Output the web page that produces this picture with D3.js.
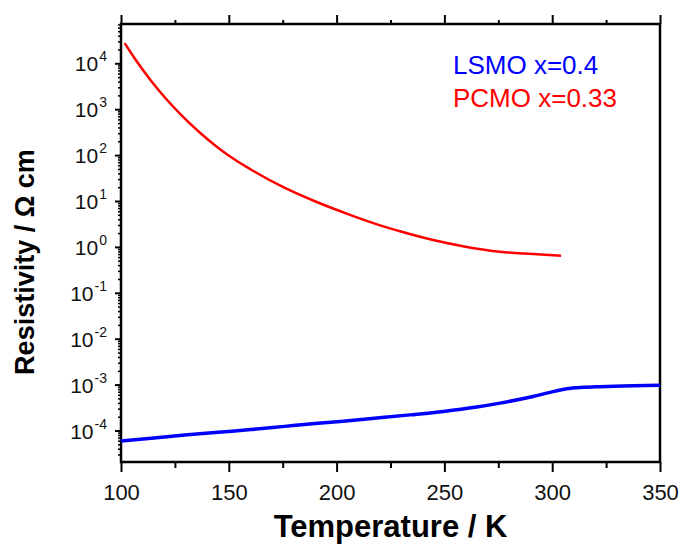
<!DOCTYPE html>
<html>
<head>
<meta charset="utf-8">
<script src="https://cdn.jsdelivr.net/npm/d3@7"></script>
<style>
  body { margin: 0; background: #fff; }
  text { font-family: "Liberation Sans", Arial, sans-serif; }
</style>
</head>
<body>
<script>
// values
var pcmoT   = [101.7, 106.3, 114.1, 121.8, 129.5, 137.3, 145, 152.7, 160.4, 175.3, 190.8, 206.2, 221.7, 229.4, 244.8, 260.3, 275.8, 291.1, 304.1];
var pcmoRho = [2.75e4, 1.29e4, 4.07e3, 1.51e3, 631, 288, 145, 80, 48, 20, 9.5, 5.0, 2.8, 2.19, 1.41, 1.0, 0.785, 0.70, 0.64];

var lsmoT   = [100, 114.1, 129.5, 145, 160.3, 175.9, 191.4, 203.1, 218.6, 234, 249.5, 265, 275.8, 291.1, 299, 306.7, 314.5, 322.2, 337.5, 350];
var lsmoRho = [5.9e-5, 6.76e-5, 7.94e-5, 9.16e-5, 1.047e-4, 1.23e-4, 1.44e-4, 1.6e-4, 1.87e-4, 2.19e-4, 2.6e-4, 3.25e-4, 3.95e-4, 5.5e-4, 6.76e-4, 8.1e-4, 8.71e-4, 9.02e-4, 9.44e-4, 9.66e-4];

var xTicks = [100, 150, 200, 250, 300, 350];
var xMinor = [125, 175, 225, 275, 325];
var yExps  = [-4, -3, -2, -1, 0, 1, 2, 3, 4];

var legendNames  = ["LSMO x=0.4", "PCMO x=0.33"];
var legendColors = ["#0000ff", "#ff0000"];

var w = 680, h = 547;
var pLeft = 121, pRight = 660, pTop = 24, pBottom = 462;

var svg = d3.select("body").append("svg")
    .attr("width", w)
    .attr("height", h);

var x = d3.scaleLinear().domain([100, 350]).range([pLeft, pRight]);
var y = d3.scaleLog().domain([2.06e-5, 7.18e4]).range([pBottom, pTop]);

// minor log ticks 2..9 in each decade
var yMinor = [];
for (var e = -5; e <= 4; e++) {
  for (var m = 2; m <= 9; m++) {
    var v = m * Math.pow(10, e);
    if (v > y.domain()[0] && v < y.domain()[1]) yMinor.push(v);
  }
}
var yMajor = yExps.map(function(e) { return Math.pow(10, e); });

function styleAxis(g, sw) {
  g.select(".domain").remove();
  g.selectAll("line").attr("stroke", "#000").attr("stroke-width", sw);
  g.selectAll("text").remove();
}

// bottom axis
svg.append("g").attr("transform", "translate(0," + pBottom + ")")
  .call(d3.axisBottom(x).tickValues(xMinor).tickSize(6))
  .call(styleAxis, 2);
var bx = svg.append("g").attr("transform", "translate(0," + pBottom + ")")
  .call(d3.axisBottom(x).tickValues(xTicks).tickSize(10).tickPadding(12).tickFormat(d3.format("d")));
bx.select(".domain").remove();
bx.selectAll("line").attr("stroke", "#000").attr("stroke-width", 2);
bx.selectAll("text")
  .attr("font-size", 22)
  .attr("fill", "#111")
  .attr("font-family", "Liberation Sans, Arial, sans-serif");

// top axis
svg.append("g").attr("transform", "translate(0," + pTop + ")")
  .call(d3.axisTop(x).tickValues(xMinor).tickSize(4))
  .call(styleAxis, 2);
svg.append("g").attr("transform", "translate(0," + pTop + ")")
  .call(d3.axisTop(x).tickValues(xTicks).tickSize(9))
  .call(styleAxis, 2);

// left axis
svg.append("g").attr("transform", "translate(" + pLeft + ",0)")
  .call(d3.axisLeft(y).tickValues(yMinor).tickSize(3))
  .call(styleAxis, 1.5);
svg.append("g").attr("transform", "translate(" + pLeft + ",0)")
  .call(d3.axisLeft(y).tickValues(yMajor).tickSize(6))
  .call(styleAxis, 2);

// y tick labels 10^n
var lab = svg.append("g").selectAll("text")
  .data(yExps)
  .enter().append("text")
    .attr("x", 107)
    .attr("y", function(d) { return y(Math.pow(10, d)) + 8; })
    .attr("text-anchor", "end")
    .attr("fill", "#111");
lab.append("tspan").attr("font-size", 21).text("10");
lab.append("tspan").attr("font-size", 14).attr("dy", -10).attr("dx", 1).text(function(d) { return d; });

// frame
svg.append("rect")
  .attr("x", pLeft).attr("y", pTop)
  .attr("width", pRight - pLeft).attr("height", pBottom - pTop)
  .attr("fill", "none")
  .attr("stroke", "#000")
  .attr("stroke-width", 2.5);

// curves
var line = d3.line()
  .x(function(d) { return x(d[0]); })
  .y(function(d) { return y(d[1]); })
  .curve(d3.curveMonotoneX);

svg.append("path")
  .datum(d3.zip(pcmoT, pcmoRho))
  .attr("d", line)
  .attr("fill", "none")
  .attr("stroke", "#ff0000")
  .attr("stroke-width", 2.5);

svg.append("path")
  .datum(d3.zip(lsmoT, lsmoRho))
  .attr("d", line)
  .attr("fill", "none")
  .attr("stroke", "#0000ff")
  .attr("stroke-width", 3.5);

// legend
svg.append("g").selectAll("text")
  .data(legendNames)
  .enter().append("text")
    .attr("x", 453)
    .attr("y", function(d, i) { return 74 + i * 33; })
    .attr("font-size", 26)
    .attr("fill", function(d, i) { return legendColors[i]; })
    .text(function(d) { return d; });

// axis titles
svg.append("text")
  .attr("x", (pLeft + pRight) / 2)
  .attr("y", 537)
  .attr("text-anchor", "middle")
  .attr("font-size", 31)
  .attr("font-weight", "bold")
  .text("Temperature / K");

svg.append("text")
  .attr("transform", "translate(34,262) rotate(-90)")
  .attr("text-anchor", "middle")
  .attr("font-size", 27)
  .attr("font-weight", "bold")
  .text("Resistivity / Ω cm");
</script>
</body>
</html>
